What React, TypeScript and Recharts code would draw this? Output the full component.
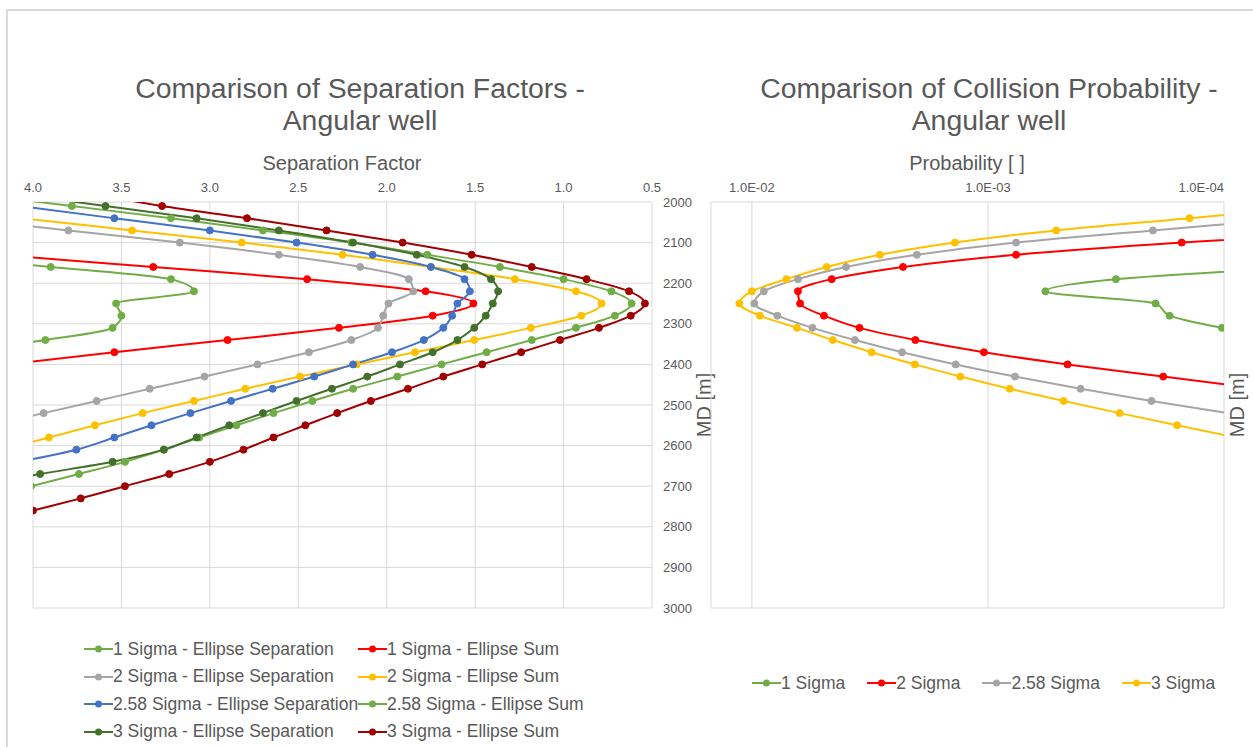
import { CartesianGrid, Line, LineChart, XAxis, YAxis } from "recharts";

const n = null;

// measured depth stations, every 30 m
const md = [
  1980, 2010, 2040, 2070, 2100, 2130, 2160, 2190, 2220, 2250, 2280, 2310, 2340, 2370,
  2400, 2430, 2460, 2490, 2520, 2550, 2580, 2610, 2640, 2670, 2700, 2730, 2760, 2790,
];

// separation factor per sigma level
const sep1 = [n, n, n, n, n, 4.65, 3.9, 3.22, 3.09, 3.53, 3.5, 3.55, 3.93, 4.45, n, n, n, n, n, n, n, n, n, n, n, n, n, n];
const sum1 = [n, n, n, n, n, 4.19, 3.32, 2.45, 1.78, 1.51, 1.74, 2.27, 2.9, 3.54, 4.15, n, n, n, n, n, n, n, n, n, n, n, n, n];
const sep2 = [n, n, 4.43, 3.8, 3.17, 2.61, 2.15, 1.875, 1.85, 1.99, 2.02, 2.05, 2.2, 2.44, 2.73, 3.03, 3.34, 3.64, 3.94, 4.24, n, n, n, n, n, n, n, n];
const sum2 = [n, 4.65, 4.06, 3.44, 2.82, 2.25, 1.75, 1.275, 0.93, 0.785, 0.9, 1.185, 1.505, 1.84, 2.17, 2.49, 2.8, 3.09, 3.38, 3.65, 3.91, 4.17, n, n, n, n, n, n];
const sep258 = [n, 4.08, 3.54, 3.0, 2.51, 2.08, 1.75, 1.56, 1.53, 1.6, 1.63, 1.68, 1.79, 1.97, 2.19, 2.41, 2.645, 2.88, 3.11, 3.33, 3.54, 3.755, 4.08, n, n, n, n, n];
const sum258 = [4.34, 3.78, 3.22, 2.7, 2.2, 1.77, 1.36, 1.0, 0.73, 0.615, 0.71, 0.93, 1.18, 1.435, 1.69, 1.94, 2.19, 2.42, 2.64, 2.85, 3.06, 3.26, 3.48, 3.74, 4.01, 4.3, n, n];
const sep3 = [4.1, 3.59, 3.075, 2.61, 2.19, 1.83, 1.56, 1.41, 1.37, 1.4, 1.44, 1.505, 1.6, 1.74, 1.925, 2.11, 2.31, 2.51, 2.7, 2.89, 3.075, 3.26, 3.55, 3.96, 4.35, n, n, n];
const sum3 = [3.65, 3.27, 2.79, 2.34, 1.91, 1.52, 1.18, 0.87, 0.63, 0.54, 0.62, 0.8, 1.02, 1.24, 1.46, 1.68, 1.88, 2.09, 2.28, 2.46, 2.64, 2.81, 3.0, 3.23, 3.48, 3.73, 4.0, 4.27];

// collision probability per sigma level
const prob1 = [n, n, n, n, n, n, 4.5e-5, 2.87e-4, 5.71e-4, 1.95e-4, 1.7e-4, 1.02e-4, 5e-5, n, n, n, n, n, n, n, n, n, n, n, n, n, n, n];
const prob2 = [n, n, n, 2e-5, 1.51e-4, 7.6e-4, 2.29e-3, 4.59e-3, 6.38e-3, 6.25e-3, 4.95e-3, 3.5e-3, 2.03e-3, 1.04e-3, 4.6e-4, 1.81e-4, 7e-5, n, n, n, n, n, n, n, n, n, n, n];
const prob258 = [n, n, 5e-5, 2.0e-4, 7.6e-4, 2.0e-3, 3.99e-3, 6.38e-3, 8.9e-3, 9.77e-3, 7.8e-3, 5.54e-3, 3.66e-3, 2.31e-3, 1.37e-3, 7.68e-4, 4.05e-4, 2.03e-4, 9.6e-5, n, n, n, n, n, n, n, n, n];
const prob3 = [n, 4e-5, 1.4e-4, 5.14e-4, 1.38e-3, 2.87e-3, 4.82e-3, 7.14e-3, 1.0e-2, 1.13e-2, 9.24e-3, 6.44e-3, 4.54e-3, 3.11e-3, 2.04e-3, 1.31e-3, 8.09e-4, 4.78e-4, 2.77e-4, 1.58e-4, 8.9e-5, n, n, n, n, n, n, n];

const sfTicks = [0.5, 1.0, 1.5, 2.0, 2.5, 3.0, 3.5, 4.0];
const mdTicks = [2000, 2100, 2200, 2300, 2400, 2500, 2600, 2700, 2800, 2900, 3000];
const probEdge = 0.0149;
const probTicks = [1e-4, 1e-3, 1e-2, probEdge];

const TEXT = "#595959";
const GRID = "#D9D9D9";
const FONT = '"Liberation Sans", Arial, sans-serif';

const sfSeries = [
  { key: "sep1", name: "1 Sigma - Ellipse Separation", color: "#70AD47", values: sep1 },
  { key: "sum1", name: "1 Sigma - Ellipse Sum", color: "#FF0000", values: sum1 },
  { key: "sep2", name: "2 Sigma - Ellipse Separation", color: "#A5A5A5", values: sep2 },
  { key: "sum2", name: "2 Sigma - Ellipse Sum", color: "#FFC000", values: sum2 },
  { key: "sep258", name: "2.58 Sigma - Ellipse Separation", color: "#4472C4", values: sep258 },
  { key: "sum258", name: "2.58 Sigma - Ellipse Sum", color: "#70AD47", values: sum258 },
  { key: "sep3", name: "3 Sigma - Ellipse Separation", color: "#43702B", values: sep3 },
  { key: "sum3", name: "3 Sigma - Ellipse Sum", color: "#A00000", values: sum3 },
];

const probSeries = [
  { key: "p1", name: "1 Sigma", color: "#70AD47", values: prob1 },
  { key: "p2", name: "2 Sigma", color: "#FF0000", values: prob2 },
  { key: "p258", name: "2.58 Sigma", color: "#A5A5A5", values: prob258 },
  { key: "p3", name: "3 Sigma", color: "#FFC000", values: prob3 },
];

const buildRows = (series: { key: string; values: (number | null)[] }[]) =>
  md.map((m, i) => {
    const row: Record<string, number | null> = { md: m };
    series.forEach((s) => (row[s.key] = s.values[i]));
    return row;
  });

const sfRows = buildRows(sfSeries);
const probRows = buildRows(probSeries);

const fmtE = (v: number) => "1.0E-" + String(Math.round(-Math.log10(v))).padStart(2, "0");

// the outer gridline at probEdge gets no label; the last decade label sits inside the plot
const ProbTick = (props: any) => {
  const { x, y, payload } = props;
  const v = payload.value as number;
  if (v > 0.012) return null;
  return (
    <text x={x} y={y} textAnchor={v <= 1e-4 ? "end" : "middle"} fontSize={13} fill={TEXT} fontFamily={FONT}>
      {fmtE(v)}
    </text>
  );
};

function LegendKey({ color }: { color: string }) {
  return (
    <svg width={29} height={10} style={{ flex: "none" }}>
      <line x1={0} y1={5} x2={29} y2={5} stroke={color} strokeWidth={2} />
      <circle cx={14.5} cy={5} r={3.5} fill={color} />
    </svg>
  );
}

const abs = (left: number, top: number, extra: React.CSSProperties = {}): React.CSSProperties => ({
  position: "absolute",
  left,
  top,
  ...extra,
});

function Title({ cx, lines }: { cx: number; lines: string[] }) {
  return (
    <div style={abs(cx - 300, 72, { width: 600, textAlign: "center", fontSize: 28.4, lineHeight: "32px", color: TEXT })}>
      {lines.map((l) => (
        <div key={l}>{l}</div>
      ))}
    </div>
  );
}

function AxisTitle({ cx, cy, text, rotate }: { cx: number; cy: number; text: string; rotate?: boolean }) {
  return (
    <div
      style={abs(cx - 100, cy - 12, {
        width: 200,
        height: 24,
        lineHeight: "24px",
        textAlign: "center",
        fontSize: 20,
        color: TEXT,
        transform: rotate ? "rotate(-90deg)" : undefined,
      })}
    >
      {text}
    </div>
  );
}

const lineProps = (color: string) => ({
  type: "monotone" as const,
  stroke: color,
  strokeWidth: 2,
  dot: { r: 3.5, fill: color, stroke: color, strokeWidth: 1 },
  activeDot: false as const,
  isAnimationActive: false,
});

export default function App() {
  return (
    <div style={abs(0, 0, { width: 1253, height: 747, background: "#fff", fontFamily: FONT, overflow: "hidden" })}>
      <div style={abs(6, 9, { width: 1260, height: 760, borderLeft: `2px solid ${GRID}`, borderTop: `2px solid ${GRID}` })} />

      <Title cx={360} lines={["Comparison of Separation Factors -", "Angular well"]} />
      <Title cx={989} lines={["Comparison of Collision Probability -", "Angular well"]} />
      <AxisTitle cx={342} cy={163} text="Separation Factor" />
      <AxisTitle cx={967} cy={163} text="Probability [ ]" />
      <AxisTitle cx={704} cy={405} text="MD [m]" rotate />
      <AxisTitle cx={1237} cy={405} text="MD [m]" rotate />

      <div style={abs(0, 0)}>
        <LineChart layout="vertical" width={760} height={620} data={sfRows} margin={{ top: 172, right: 48, bottom: 12, left: 33 }}>
          <CartesianGrid stroke={GRID} />
          <XAxis
            type="number"
            orientation="top"
            domain={[0.5, 4]}
            ticks={sfTicks}
            interval={0}
            reversed
            allowDataOverflow
            height={30}
            axisLine={false}
            tickLine={false}
            tickMargin={4}
            tickFormatter={(v: number) => v.toFixed(1)}
            tick={{ fontSize: 13, fill: TEXT, fontFamily: FONT }}
          />
          <YAxis
            type="number"
            dataKey="md"
            orientation="right"
            domain={[2000, 3000]}
            ticks={mdTicks}
            interval={0}
            allowDataOverflow
            width={60}
            axisLine={false}
            tickLine={false}
            tickMargin={5}
            tick={{ fontSize: 13, fill: TEXT, fontFamily: FONT }}
          />
          {sfSeries.map((s) => (
            <Line key={s.key} dataKey={s.key} name={s.name} {...lineProps(s.color)} />
          ))}
        </LineChart>
      </div>

      <div style={abs(680, 0)}>
        <LineChart layout="vertical" width={570} height={620} data={probRows} margin={{ top: 172, right: 16, bottom: 12, left: 31 }}>
          <CartesianGrid stroke={GRID} />
          <XAxis
            type="number"
            scale="log"
            orientation="top"
            domain={[1e-4, probEdge]}
            ticks={probTicks}
            interval={0}
            reversed
            allowDataOverflow
            height={30}
            axisLine={false}
            tickLine={false}
            tickMargin={4}
            tick={<ProbTick />}
          />
          <YAxis
            type="number"
            dataKey="md"
            orientation="right"
            domain={[2000, 3000]}
            ticks={mdTicks}
            interval={0}
            allowDataOverflow
            width={10}
            axisLine={false}
            tickLine={false}
            tick={false}
          />
          {probSeries.map((s) => (
            <Line key={s.key} dataKey={s.key} name={s.name} {...lineProps(s.color)} />
          ))}
        </LineChart>
      </div>

      {sfSeries.map((s, i) => (
        <div
          key={s.key}
          style={abs(84 + (i % 2) * 274, 649 + Math.floor(i / 2) * 27.5 - 12, {
            height: 24,
            display: "flex",
            alignItems: "center",
            fontSize: 17.5,
            color: TEXT,
            whiteSpace: "nowrap",
          })}
        >
          <LegendKey color={s.color} />
          <span>{s.name}</span>
        </div>
      ))}

      <div
        style={abs(752, 683 - 12, {
          height: 24,
          display: "flex",
          alignItems: "center",
          gap: 22,
          fontSize: 17.5,
          color: TEXT,
          whiteSpace: "nowrap",
        })}
      >
        {probSeries.map((s) => (
          <div key={s.key} style={{ display: "flex", alignItems: "center" }}>
            <LegendKey color={s.color} />
            <span>{s.name}</span>
          </div>
        ))}
      </div>
    </div>
  );
}
